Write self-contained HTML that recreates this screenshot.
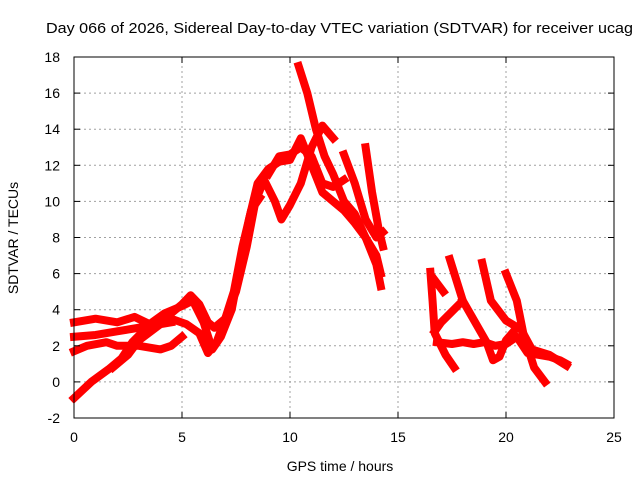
<!DOCTYPE html>
<html><head><meta charset="utf-8"><style>
body{margin:0;background:#fff}
svg{display:block;font-family:"Liberation Sans",sans-serif}
</style></head><body>
<svg id="chart" width="640" height="480" xmlns="http://www.w3.org/2000/svg">
<rect width="640" height="480" fill="#fff"/>
<text x="46" y="33" font-size="15" textLength="587" lengthAdjust="spacingAndGlyphs" fill="#000">Day 066 of 2026, Sidereal Day-to-day VTEC variation (SDTVAR) for receiver ucag</text>
<text x="340" y="471" font-size="14" text-anchor="middle">GPS time / hours</text>
<text transform="translate(18,238) rotate(-90)" font-size="14" text-anchor="middle">SDTVAR / TECUs</text>
<g id="grid"></g><g id="series"></g><g id="axes"></g>
</svg>
<script>
const xTicks=[0,5,10,15,20,25];
const yTicks=[-2,0,2,4,6,8,10,12,14,16,18];
const s1=[[0,-0.9],[0.8,0],[1.6,0.7],[2.2,1.3],[2.7,2.2],[3.2,2.8],[3.8,3.2],[4.5,3.8],[5,4.3],[5.4,4.8],[5.8,4.3],[6.2,3.3],[6.5,3],[7,3.5],[7.4,5],[7.8,7.5],[8.2,9.5],[8.6,10.2]];
const s2=[[0,3.3],[1,3.5],[2,3.3],[2.8,3.6],[3.5,3.2],[4.2,3.8],[5,4.2],[5.5,4.5],[6,3.3],[6.4,1.8],[6.8,2.5],[7.3,4],[7.7,6.5],[8.1,9],[8.5,11],[9,11.8],[9.5,12.2],[10,12.3],[10.5,13.5],[11,12],[11.5,10.5],[12,10],[12.5,9.5],[13,8.8],[13.5,8],[14,7],[14.2,6]];
const s3=[[0,2.5],[1,2.6],[2,2.8],[3,3],[3.8,3.2],[4.5,3.5],[5.2,3.2],[5.8,2.7],[6.2,1.6],[6.6,2.2],[7,3.5],[7.5,5],[8,7.5],[8.4,10],[8.8,11.2],[9.3,10],[9.6,9],[10,9.8],[10.5,11],[11,13],[11.5,14.2],[12,13.5]];
const s4=[[0,1.7],[0.6,2.0],[1.5,2.2],[2,2],[3,2.0],[4,1.8],[4.5,2],[5,2.5]];
const s5=[[1.8,0.8],[2.5,1.5],[3,2.3],[4,3.2],[4.5,3.3]];
const s6=[[10.4,17.5],[10.8,16],[11.2,14],[11.6,12.5],[12,11.5],[12.5,10],[13,9.3],[13.5,8],[14,6.5],[14.2,5.3]];
const s7=[[12.5,12.6],[13,11],[13.5,9],[14,8],[14.3,8.3]];
const s8=[[13.5,13],[13.8,10.5],[14.1,8.5],[14.3,7.5]];
const s9=[[9,11.5],[9.5,12.5],[10,12.6],[10.5,13],[11,12.5],[11.5,11],[12,10.8],[12.5,11.2]];
const s10=[[16.5,6.1],[16.6,4.5],[16.7,2.7],[17.2,1.5],[17.6,0.8]];
const s11=[[16.8,2.2],[17.5,2.1],[18,2.2],[18.5,2.1],[19,2.2],[19.5,2.0],[20,2.1],[20.5,2.5],[21,1.6],[21.5,1.5],[22,1.4],[22.5,1.2],[22.8,1.0]];
const s12=[[17.4,6.8],[18,4.5],[17,3.3],[16.7,2.8]];
const s13=[[18,4.5],[19.1,2.2],[19.4,1.2],[19.7,1.4],[20,2.3],[20.5,3]];
const s14=[[18.9,6.6],[19.3,4.5],[20,3.4],[20.7,2.9],[21.2,1.8],[22,1.5],[22.8,0.9]];
const s15=[[20,6],[20.5,4.5],[20.8,2.7],[21.3,0.8],[21.8,0]];
const s16=[[16.6,5.8],[17.1,5.0]];
const seriesList=[s1,s2,s3,s4,s5,s6,s7,s8,s9,s10,s11,s12,s13,s14,s15,s16];
const X0=74,X1=614,Y0=418,Y1=57;
const xs=h=>X0+(h-0)/(25-0)*(X1-X0);
const ys=v=>Y0-(v-(-2))/(18-(-2))*(Y0-Y1);
const NS="http://www.w3.org/2000/svg";
const grid=document.getElementById('grid'),axes=document.getElementById('axes'),ser=document.getElementById('series');
function mk(tag,attrs,parent){const e=document.createElementNS(NS,tag);for(const k in attrs)e.setAttribute(k,attrs[k]);parent.appendChild(e);return e;}
xTicks.forEach(t=>{
  if(t>0&&t<25){const g=mk('line',{x1:xs(t),x2:xs(t),y1:Y0,y2:Y1,stroke:'#a0a0a0','stroke-dasharray':'2,3'},grid);
  
  }
  const tk=mk('line',{x1:xs(t),x2:xs(t),y1:Y0,y2:Y0-6,stroke:'#000'},axes);
  
  
  const tk2=mk('line',{x1:xs(t),x2:xs(t),y1:Y1,y2:Y1+6,stroke:'#000'},axes);
  
  
  const lb=mk('text',{x:xs(t),y:Y0+24,'font-size':14,'text-anchor':'middle'},axes);lb.textContent=t;
  
  
});
yTicks.forEach(t=>{
  if(t>-2&&t<18){const g=mk('line',{x1:X0,x2:X1,y1:ys(t),y2:ys(t),stroke:'#a0a0a0','stroke-dasharray':'2,3'},grid);
  
  }
  const tk=mk('line',{x1:X0,x2:X0+6,y1:ys(t),y2:ys(t),stroke:'#000'},axes);
  
  
  const tk2=mk('line',{x1:X1,x2:X1-6,y1:ys(t),y2:ys(t),stroke:'#000'},axes);
  
  
  const lb=mk('text',{x:X0-14,y:ys(t)+5,'font-size':14,'text-anchor':'end'},axes);lb.textContent=t;
  
  
});
const box=mk('rect',{x:X0,y:Y1,width:X1-X0,height:Y0-Y1,fill:'none',stroke:'#000'},axes);


seriesList.forEach(s=>{
  const p=mk('polyline',{points:s.map(d=>xs(d[0])+','+ys(d[1])).join(' '),fill:'none',stroke:'#ff0000','stroke-width':8,'stroke-linejoin':'round','stroke-linecap':'square'},ser);
  
  
});
</script>
</body></html>
